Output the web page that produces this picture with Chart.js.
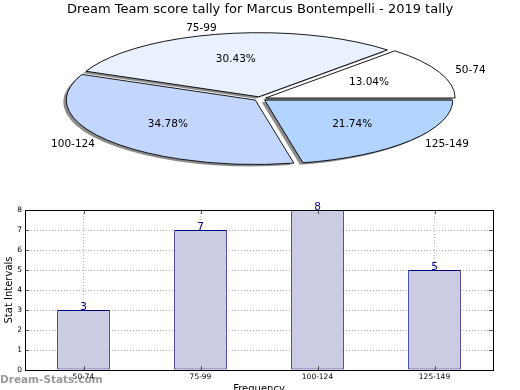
<!DOCTYPE html>
<html>
<head>
<meta charset="utf-8">
<script src="https://cdn.jsdelivr.net/npm/chart.js@4.4.0/dist/chart.umd.min.js"></script>
<style>
  html, body { margin: 0; padding: 0; background: #fff; overflow: hidden; }
  body { width: 520px; height: 390px; position: relative; }
  #pieChart { position: absolute; left: 0; top: 0; }
  #barChart { position: absolute; left: 0; top: 190px; }
  #mark { position: absolute; left: 0; top: 373px; font: bold 10.5px "DejaVu Sans"; color: rgba(110,110,110,0.7); white-space: nowrap; }
</style>
</head>
<body>
<canvas id="pieChart" width="520" height="178"></canvas>
<canvas id="barChart" width="520" height="205"></canvas>
<div id="mark">Dream-Stats.com</div>
<script>
const titleText = 'Dream Team score tally for Marcus Bontempelli - 2019 tally';
const intervals = ['50-74', '75-99', '100-124', '125-149'];
const counts = [3, 7, 8, 5];
const sliceColors = ['#ffffff', '#e9f0fe', '#c3d7fe', '#b2d4fe'];

Chart.defaults.font.family = '"DejaVu Sans", sans-serif';
Chart.defaults.color = '#000';

// pie is drawn as a circle then squashed into an ellipse (and mirrored so it runs counter-clockwise)
const squash = 64 / 188;

function sliceGeom(arc) {
  const p = arc.getProps(['x', 'y', 'startAngle', 'endAngle', 'outerRadius', 'circumference']);
  const o = (arc.options.offset || 0) / 4;
  const mid = (p.startAngle + p.endAngle) / 2;
  const grow = o * (1 - Math.sin(Math.min(Math.PI, p.circumference)));
  return {
    ox: p.x, oy: p.y,
    cx: p.x + Math.cos(mid) * o, cy: p.y + Math.sin(mid) * o,
    r: p.outerRadius + grow, baseR: p.outerRadius,
    start: p.startAngle, end: p.endAngle, mid
  };
}

function squashAbout(ctx, y) {
  ctx.translate(0, y);
  ctx.scale(1, -squash);
  ctx.translate(0, -y);
}

function slicePath(ctx, g, dx, dy) {
  ctx.save();
  ctx.translate(dx, dy);
  squashAbout(ctx, g.oy);
  ctx.moveTo(g.cx, g.cy);
  ctx.arc(g.cx, g.cy, g.r, g.start, g.end);
  ctx.closePath();
  ctx.restore();
}

const ellipsePie = {
  id: 'ellipsePie',
  beforeDatasetsDraw(chart) {
    const ctx = chart.ctx;
    const arcs = chart.getDatasetMeta(0).data;
    ctx.save();
    ctx.fillStyle = 'rgba(0,0,0,0.45)';
    arcs.forEach(arc => {
      ctx.beginPath();
      slicePath(ctx, sliceGeom(arc), -3, 2);
      ctx.fill();
    });
    ctx.restore();
    ctx.save();
    squashAbout(ctx, arcs[0].y);
  },
  afterDatasetsDraw(chart) {
    const ctx = chart.ctx;
    ctx.restore();
    const arcs = chart.getDatasetMeta(0).data;
    const total = counts.reduce((a, b) => a + b, 0);
    ctx.save();
    ctx.strokeStyle = '#000';
    ctx.lineWidth = 0.9;
    arcs.forEach(arc => {
      ctx.beginPath();
      slicePath(ctx, sliceGeom(arc), 0, 0);
      ctx.stroke();
    });
    ctx.fillStyle = '#000';
    ctx.font = '10.5px "DejaVu Sans"';
    ctx.textBaseline = 'middle';
    arcs.forEach((arc, i) => {
      const g = sliceGeom(arc);
      const at = f => ({
        x: g.cx + f * g.baseR * Math.cos(g.mid),
        y: g.oy - squash * (g.cy - g.oy + f * g.baseR * Math.sin(g.mid))
      });
      const lab = at(1.1);
      ctx.textAlign = Math.cos(g.mid) > 0 ? 'left' : 'right';
      ctx.fillText(chart.data.labels[i], lab.x, lab.y);
      const pct = at(0.6);
      ctx.textAlign = 'center';
      ctx.fillText((counts[i] / total * 100).toFixed(2) + '%', pct.x, pct.y);
    });
    ctx.restore();
  }
};

new Chart(document.getElementById('pieChart'), {
  type: 'pie',
  data: {
    labels: intervals,
    datasets: [{
      data: counts,
      backgroundColor: sliceColors,
      borderWidth: 0,
      offset: 24,
      clip: false
    }]
  },
  options: {
    responsive: false,
    animation: false,
    devicePixelRatio: 1,
    events: [],
    rotation: 90,
    radius: 188,
    layout: { padding: 0 },
    plugins: {
      legend: { display: false },
      tooltip: { enabled: false },
      title: {
        display: true,
        text: titleText,
        color: '#000',
        font: { size: 13, weight: 'normal' },
        padding: { top: 2, bottom: 2 }
      }
    }
  },
  plugins: [ellipsePie]
});

// frame, inward ticks and the count above each bar
const barDecor = {
  id: 'barDecor',
  afterDraw(chart) {
    const ctx = chart.ctx;
    const { left, right, top, bottom } = chart.chartArea;
    const xs = chart.scales.x, ys = chart.scales.y;
    ctx.save();
    ctx.strokeStyle = '#555';
    ctx.lineWidth = 1;
    ctx.beginPath();
    ys.ticks.forEach(t => {
      const y = Math.round(ys.getPixelForValue(t.value)) + 0.5;
      ctx.moveTo(left, y); ctx.lineTo(left + 4, y);
      ctx.moveTo(right, y); ctx.lineTo(right - 4, y);
    });
    intervals.forEach((_, i) => {
      const x = Math.round(xs.getPixelForValue(i)) + 0.5;
      ctx.moveTo(x, bottom); ctx.lineTo(x, bottom - 4);
      ctx.moveTo(x, top); ctx.lineTo(x, top + 4);
    });
    ctx.stroke();
    ctx.strokeStyle = '#000';
    ctx.strokeRect(Math.round(left) + 0.5, Math.round(top) + 0.5, Math.round(right - left), Math.round(bottom - top));
    ctx.fillStyle = '#00008b';
    ctx.font = '10.5px "DejaVu Sans"';
    ctx.textAlign = 'center';
    ctx.textBaseline = 'alphabetic';
    chart.getDatasetMeta(0).data.forEach((bar, i) => {
      ctx.fillText(String(counts[i]), bar.x, bar.y - 0.5);
    });
    ctx.restore();
  }
};

new Chart(document.getElementById('barChart'), {
  type: 'bar',
  data: {
    labels: intervals,
    datasets: [{
      data: counts,
      backgroundColor: '#cbcbe4',
      borderColor: '#00007f',
      borderWidth: 1,
      borderSkipped: false,
      barPercentage: 0.45,
      categoryPercentage: 1
    }]
  },
  options: {
    responsive: false,
    animation: false,
    devicePixelRatio: 1,
    events: [],
    layout: { padding: { top: 20, right: 27, left: 0, bottom: 0 } },
    plugins: { legend: { display: false }, tooltip: { enabled: false } },
    scales: {
      x: {
        offset: true,
        grid: { offset: false, color: '#b4b4b4', drawTicks: false },
        border: { display: false, dash: [1, 2] },
        ticks: { font: { size: 7.5 }, color: '#000', padding: 3, maxRotation: 0, autoSkip: false },
        title: { display: true, text: 'Frequency', font: { size: 10 }, color: '#000', padding: 0 },
        afterFit(s) { s.height = 25; }
      },
      y: {
        min: 0,
        max: 8,
        grid: { color: '#b4b4b4', drawTicks: false },
        border: { display: false, dash: [1, 2] },
        ticks: { stepSize: 1, font: { size: 7.5 }, color: '#000', padding: 3 },
        title: { display: true, text: 'Stat Intervals', font: { size: 10 }, color: '#000', padding: { top: 3, bottom: 0 } },
        afterFit(s) { s.width = 25; }
      }
    }
  },
  plugins: [barDecor]
});
</script>
</body>
</html>
